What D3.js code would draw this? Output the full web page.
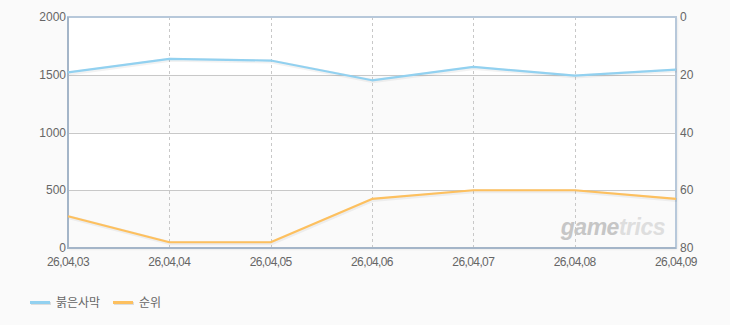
<!DOCTYPE html>
<html>
<head>
<meta charset="utf-8">
<script src="https://cdn.jsdelivr.net/npm/d3@7"></script>
<style>
  body { margin: 0; background: #fafafa; }
  text { font-family: "Liberation Sans", "Noto Sans CJK KR", sans-serif; }
</style>
</head>
<body>
<div id="chart"></div>
<script>
const dates = ["26,04,03", "26,04,04", "26,04,05", "26,04,06", "26,04,07", "26,04,08", "26,04,09"];
const users = [1520, 1638, 1623, 1452, 1568, 1493, 1545];   // 붉은사막 (left axis)
const ranks = [69, 78, 78, 63, 60, 60, 63];                // 순위 (right axis, reversed)
const leftTicks = [0, 500, 1000, 1500, 2000];
const rightTicks = [0, 20, 40, 60, 80];
const seriesNames = ["붉은사막", "순위"];
const seriesColors = ["#92d1f0", "#fdc05f"];

const width = 730, height = 325;
const margin = {top: 17, right: 54, bottom: 77, left: 68};
const w = width - margin.left - margin.right,
      h = height - margin.top - margin.bottom;

const svg = d3.select("#chart").append("svg")
    .attr("width", width)
    .attr("height", height);

const defs = svg.append("defs");
const shadow = defs.append("filter").attr("id", "shadow")
    .attr("x", "-5%").attr("y", "-5%").attr("width", "110%").attr("height", "110%");
shadow.append("feDropShadow")
    .attr("dx", 1).attr("dy", 1).attr("stdDeviation", 1)
    .attr("flood-color", "#000").attr("flood-opacity", 0.12);

const g = svg.append("g").attr("transform", `translate(${margin.left},${margin.top})`);

const x = d3.scalePoint().domain(dates).range([0, w]);
const yL = d3.scaleLinear().domain([0, 2000]).range([h, 0]);
const yR = d3.scaleLinear().domain([0, 80]).range([0, h]);

// plot background with alternating bands
g.append("rect").attr("width", w).attr("height", h).attr("fill", "#fff")
    .attr("filter", "url(#shadow)");
g.selectAll(".band")
    .data(d3.pairs(leftTicks).filter((d, i) => i % 2 === 0))
    .join("rect")
    .attr("class", "band")
    .attr("x", 0)
    .attr("y", d => yL(d[1]))
    .attr("width", w)
    .attr("height", d => yL(d[0]) - yL(d[1]))
    .attr("fill", "#fafafa");

// horizontal grid
g.selectAll(".hgrid")
    .data(leftTicks.slice(1, -1))
    .join("line")
    .attr("x1", 0).attr("x2", w)
    .attr("y1", d => Math.round(yL(d)) + 0.5)
    .attr("y2", d => Math.round(yL(d)) + 0.5)
    .attr("stroke", "#c8c8c8");

// vertical dashed grid
g.selectAll(".vgrid")
    .data(dates.slice(1, -1))
    .join("line")
    .attr("x1", d => Math.round(x(d)) + 0.5)
    .attr("x2", d => Math.round(x(d)) + 0.5)
    .attr("y1", 0).attr("y2", h)
    .attr("stroke", "#c8c8c8")
    .attr("stroke-dasharray", "3,3");

// watermark
const wm = g.append("text")
    .attr("x", w - 11).attr("y", h - 13)
    .attr("text-anchor", "end")
    .attr("font-size", 23)
    .attr("font-weight", "bold")
    .attr("font-style", "italic")
    .attr("letter-spacing", "-0.5px");
wm.append("tspan").attr("fill", "#c6c6c6").text("game");
wm.append("tspan").attr("fill", "#dedede").text("trics");

// frame
g.append("rect").attr("width", w).attr("height", h)
    .attr("fill", "none").attr("stroke", "#b7c8da").attr("stroke-width", 2);
g.append("line").attr("x1", 0).attr("x2", 0).attr("y1", 0).attr("y2", h + 1)
    .attr("stroke", "#a4b5c8").attr("stroke-width", 2);
g.append("line").attr("x1", 0).attr("x2", w).attr("y1", h).attr("y2", h)
    .attr("stroke", "#a4b5c8").attr("stroke-width", 2);

// lines
const lineL = d3.line().x((d, i) => x(dates[i])).y(d => yL(d));
const lineR = d3.line().x((d, i) => x(dates[i])).y(d => yR(d));

[[users, lineL], [ranks, lineR]].forEach(([data, gen], i) => {
    g.append("path")
        .attr("d", gen(data))
        .attr("fill", "none")
        .attr("stroke", "#000")
        .attr("stroke-opacity", 0.05)
        .attr("stroke-width", 4)
        .attr("transform", "translate(1,1)");
    g.append("path")
        .attr("d", gen(data))
        .attr("fill", "none")
        .attr("stroke", seriesColors[i])
        .attr("stroke-width", 2.2)
        .attr("stroke-linejoin", "round");
});

// axes labels
const labelColor = "#666";
g.selectAll(".lt")
    .data(leftTicks)
    .join("text")
    .attr("x", -2)
    .attr("y", d => yL(d) + 4)
    .attr("text-anchor", "end")
    .attr("font-size", 12)
    .attr("fill", labelColor)
    .text(d => d);

g.selectAll(".rt")
    .data(rightTicks)
    .join("text")
    .attr("x", w + 4)
    .attr("y", d => yR(d) + 4)
    .attr("font-size", 12)
    .attr("fill", labelColor)
    .text(d => d);

g.selectAll(".xt")
    .data(dates)
    .join("text")
    .attr("x", d => x(d))
    .attr("y", h + 18)
    .attr("text-anchor", "middle")
    .attr("font-size", 12)
    .attr("letter-spacing", "-0.6px")
    .attr("fill", labelColor)
    .text(d => d);

// legend
const legend = svg.append("g").attr("transform", "translate(30, 302)");
const offsets = [0, 83];
seriesNames.forEach((name, i) => {
    const lg = legend.append("g").attr("transform", `translate(${offsets[i]},0)`);
    lg.append("rect").attr("x", 1).attr("y", 0).attr("width", 20).attr("height", 3)
        .attr("fill", "#ddd");
    lg.append("rect").attr("x", 0).attr("y", -1).attr("width", 20).attr("height", 3)
        .attr("fill", seriesColors[i]);
    lg.append("text")
        .attr("x", 26).attr("y", 5)
        .attr("font-size", 12)
        .attr("fill", "#666")
        .text(name);
});
</script>
</body>
</html>
